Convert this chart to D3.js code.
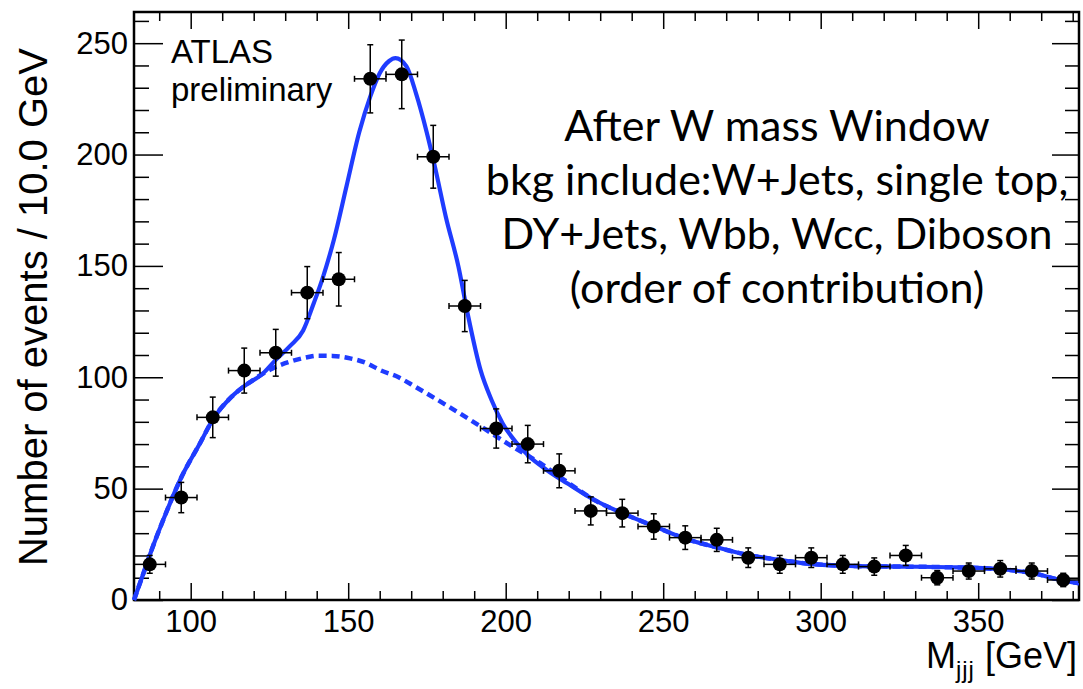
<!DOCTYPE html>
<html>
<head>
    <title>Mjjj after W mass window</title>
    <script src="https://d3js.org/d3.v7.min.js"></script>
    <style>
        body {
            margin: 0;
            background: white;
        }
        svg {
            display: block;
        }
        .fit {
            fill: none;
            stroke: #1f3cff;
            stroke-width: 4.2;
        }
        .bkg {
            fill: none;
            stroke: #1f3cff;
            stroke-width: 4.5;
            stroke-dasharray: 8,5;
        }
        .err line {
            stroke: black;
            stroke-width: 1.5;
        }
    </style>
</head>
<body>
    <svg width="1083" height="689"></svg>
    <script>
        // bin centres (10 GeV bins from 82 to 382) and event counts
        var binCenters = [87, 97, 107, 117, 127, 137, 147, 157, 167, 177, 187, 197, 207, 217, 227,
                          237, 247, 257, 267, 277, 287, 297, 307, 317, 327, 337, 347, 357, 367, 377];
        var counts = [16, 46, 82, 103, 111, 138, 144, 234, 236, 199, 132, 77, 70, 58, 40,
                      39, 33, 28, 27, 19, 16, 19, 16, 15, 20, 10, 13, 14, 13, 9];
        var countErrors = [4, 6.8, 9.1, 10.1, 10.5, 11.7, 12, 15.3, 15.4, 14.1, 11.5, 8.8, 8.4, 7.6, 6.3,
                           6.2, 5.7, 5.3, 5.2, 4.4, 4, 4.4, 4, 3.9, 4.5, 3.2, 3.6, 3.7, 3.6, 3];
        var binHalfWidth = 5;

        // signal + background fit (solid)
        var fitX = [82, 85, 88, 92, 97, 103, 107, 113, 117, 123, 127, 131.5, 135.7, 139, 142, 145.5, 149.5,
                    153.5, 157, 160, 163, 165, 168.5, 171.5, 175, 177.5, 181, 185, 188, 192, 195.5, 199,
                    203.5, 207.5, 213, 219.5, 228, 237, 247, 257.5, 266, 277, 287, 293.5, 309, 325, 341,
                    357, 367.5, 376, 382];
        var fitY = [0, 12, 24, 38.5, 55, 70.5, 81, 91.3, 96, 101.8, 107.8, 114, 121, 133, 145, 162, 186,
                    210, 226, 236.5, 242, 243.3, 239.6, 227.6, 209.6, 194.7, 172, 149.7, 128, 103.3, 89.8, 79.4,
                    70.4, 64.4, 58.4, 52.4, 45, 39, 33.2, 27.3, 24, 20.2, 18, 16.7, 15.3, 15, 14.7,
                    13.8, 12, 9, 7.5];

        // background only (dashed)
        var bkgX = [82, 85, 88, 92, 97, 103, 107, 113, 117, 120, 126, 131.5, 137, 140, 145, 150.6, 155.9,
                    160, 166, 171, 181, 192, 202, 211, 219.5, 228, 237, 247, 257.5, 266, 277, 287, 293.5,
                    309, 325, 341, 357, 367.5, 376, 382];
        var bkgY = [0, 12, 24, 38.5, 55, 70.5, 81, 91.3, 96, 99, 104, 107, 109, 109.7, 109.6, 108.5, 106.3,
                    103.3, 100, 96, 87.6, 78, 69, 61.4, 53, 45, 39, 33.2, 27.3, 24, 20.2, 18, 16.7,
                    15.3, 15, 14.7, 13.8, 12, 9, 7.5];

        var xMajor = [100, 150, 200, 250, 300, 350];
        var xMinor = [90, 110, 120, 130, 140, 160, 170, 180, 190, 210, 220, 230, 240, 260, 270, 280,
                      290, 310, 320, 330, 340, 360, 370, 380];
        var yMajor = [0, 50, 100, 150, 200, 250];
        var yMinor = [10, 20, 30, 40, 60, 70, 80, 90, 110, 120, 130, 140, 160, 170, 180, 190,
                      210, 220, 230, 240, 260];

        var infoLines = ["After W mass Window", "bkg include:W+Jets, single top,",
                         "DY+Jets, Wbb, Wcc, Diboson", "(order of contribution)"];

        var svg = d3.select("svg"),
            frameLeft = 134, frameRight = 1079, frameTop = 12, frameBottom = 600,
            helv = "'Liberation Sans', Arial, sans-serif";

        var x = d3.scaleLinear().domain([82, 382]).range([frameLeft, frameRight]),
            y = d3.scaleLinear().domain([0, 264]).range([frameBottom, frameTop]);

        var points = binCenters.map(function(c, i) {
            return {x: c, y: counts[i], e: countErrors[i]};
        });

        // axes: ticks point into the frame, labels only on bottom and left
        function addAxis(axis, tx, ty, labels) {
            var g = svg.append("g")
                .attr("transform", "translate(" + tx + "," + ty + ")")
                .call(axis);
            g.select(".domain").remove();
            g.selectAll(".tick line").attr("stroke", "black").attr("stroke-width", 1.5);
            if (!labels) g.selectAll(".tick text").remove();
            return g;
        }

        var xb = addAxis(d3.axisBottom(x).tickValues(xMajor).tickSize(-17).tickPadding(10).tickFormat(d3.format("d")), 0, frameBottom, true);
        xb.selectAll("text").style("font-family", helv).style("font-size", "31px").attr("fill", "black");
        addAxis(d3.axisBottom(x).tickValues(xMinor).tickSize(-9).tickFormat(""), 0, frameBottom, false);
        addAxis(d3.axisTop(x).tickValues(xMajor).tickSize(-17), 0, frameTop, false);
        addAxis(d3.axisTop(x).tickValues(xMinor).tickSize(-9), 0, frameTop, false);

        var yl = addAxis(d3.axisLeft(y).tickValues(yMajor).tickSize(-29).tickFormat(d3.format("d")), frameLeft, 0, true);
        yl.selectAll("text").style("font-family", helv).style("font-size", "31px").attr("fill", "black").attr("x", -6);
        addAxis(d3.axisLeft(y).tickValues(yMinor).tickSize(-15).tickFormat(""), frameLeft, 0, false);
        addAxis(d3.axisRight(y).tickValues(yMajor).tickSize(-27), frameRight, 0, false);
        addAxis(d3.axisRight(y).tickValues(yMinor).tickSize(-14), frameRight, 0, false);

        // frame
        svg.append("rect")
            .attr("x", frameLeft).attr("y", frameTop)
            .attr("width", frameRight - frameLeft).attr("height", frameBottom - frameTop)
            .attr("fill", "none").attr("stroke", "black").attr("stroke-width", 2.5);

        // curves
        var line = d3.line()
            .x(function(d) { return x(d[0]); })
            .y(function(d) { return y(d[1]); })
            .curve(d3.curveMonotoneX);

        svg.append("path")
            .datum(d3.zip(bkgX, bkgY))
            .attr("class", "bkg")
            .attr("d", line);

        svg.append("path")
            .datum(d3.zip(fitX, fitY))
            .attr("class", "fit")
            .attr("d", line);

        // data points with error bars
        var cap = 3;
        var err = svg.append("g").attr("class", "err")
            .selectAll("g")
            .data(points)
            .enter().append("g");

        err.append("line")
            .attr("x1", function(d) { return x(d.x - binHalfWidth); })
            .attr("x2", function(d) { return x(d.x + binHalfWidth); })
            .attr("y1", function(d) { return y(d.y); })
            .attr("y2", function(d) { return y(d.y); });
        err.append("line")
            .attr("x1", function(d) { return x(d.x - binHalfWidth); })
            .attr("x2", function(d) { return x(d.x - binHalfWidth); })
            .attr("y1", function(d) { return y(d.y) - cap; })
            .attr("y2", function(d) { return y(d.y) + cap; });
        err.append("line")
            .attr("x1", function(d) { return x(d.x + binHalfWidth); })
            .attr("x2", function(d) { return x(d.x + binHalfWidth); })
            .attr("y1", function(d) { return y(d.y) - cap; })
            .attr("y2", function(d) { return y(d.y) + cap; });
        err.append("line")
            .attr("x1", function(d) { return x(d.x); })
            .attr("x2", function(d) { return x(d.x); })
            .attr("y1", function(d) { return y(d.y + d.e); })
            .attr("y2", function(d) { return y(d.y - d.e); });
        err.append("line")
            .attr("x1", function(d) { return x(d.x) - cap; })
            .attr("x2", function(d) { return x(d.x) + cap; })
            .attr("y1", function(d) { return y(d.y + d.e); })
            .attr("y2", function(d) { return y(d.y + d.e); });
        err.append("line")
            .attr("x1", function(d) { return x(d.x) - cap; })
            .attr("x2", function(d) { return x(d.x) + cap; })
            .attr("y1", function(d) { return y(d.y - d.e); })
            .attr("y2", function(d) { return y(d.y - d.e); });

        svg.append("g")
            .selectAll("circle")
            .data(points)
            .enter().append("circle")
            .attr("cx", function(d) { return x(d.x); })
            .attr("cy", function(d) { return y(d.y); })
            .attr("r", 7)
            .attr("fill", "black");

        // axis titles
        svg.append("text")
            .attr("transform", "translate(47,48) rotate(-90)")
            .attr("text-anchor", "end")
            .style("font-family", helv)
            .style("font-size", "40px")
            .text("Number of events / 10.0 GeV");

        var xt = svg.append("text")
            .attr("x", 1077).attr("y", 668)
            .attr("text-anchor", "end")
            .style("font-family", helv)
            .style("font-size", "36px");
        xt.append("tspan").text("M");
        xt.append("tspan").attr("dy", 10).style("font-size", "24px").style("letter-spacing", "1px").text("jjj");
        xt.append("tspan").attr("dy", -10).text(" [GeV]");

        // labels inside the frame
        svg.append("text")
            .attr("x", 171).attr("y", 63)
            .style("font-family", helv)
            .style("font-size", "33px")
            .text("ATLAS");
        svg.append("text")
            .attr("x", 171).attr("y", 101)
            .style("font-family", helv)
            .style("font-size", "33px")
            .text("preliminary");

        svg.append("g")
            .selectAll("text")
            .data(infoLines)
            .enter().append("text")
            .attr("x", 777)
            .attr("y", function(d, i) { return 141 + i * 54; })
            .attr("text-anchor", "middle")
            .style("font-family", "Lato, sans-serif")
            .style("font-size", "43px")
            .text(function(d) { return d; });
    </script>
</body>
</html>
